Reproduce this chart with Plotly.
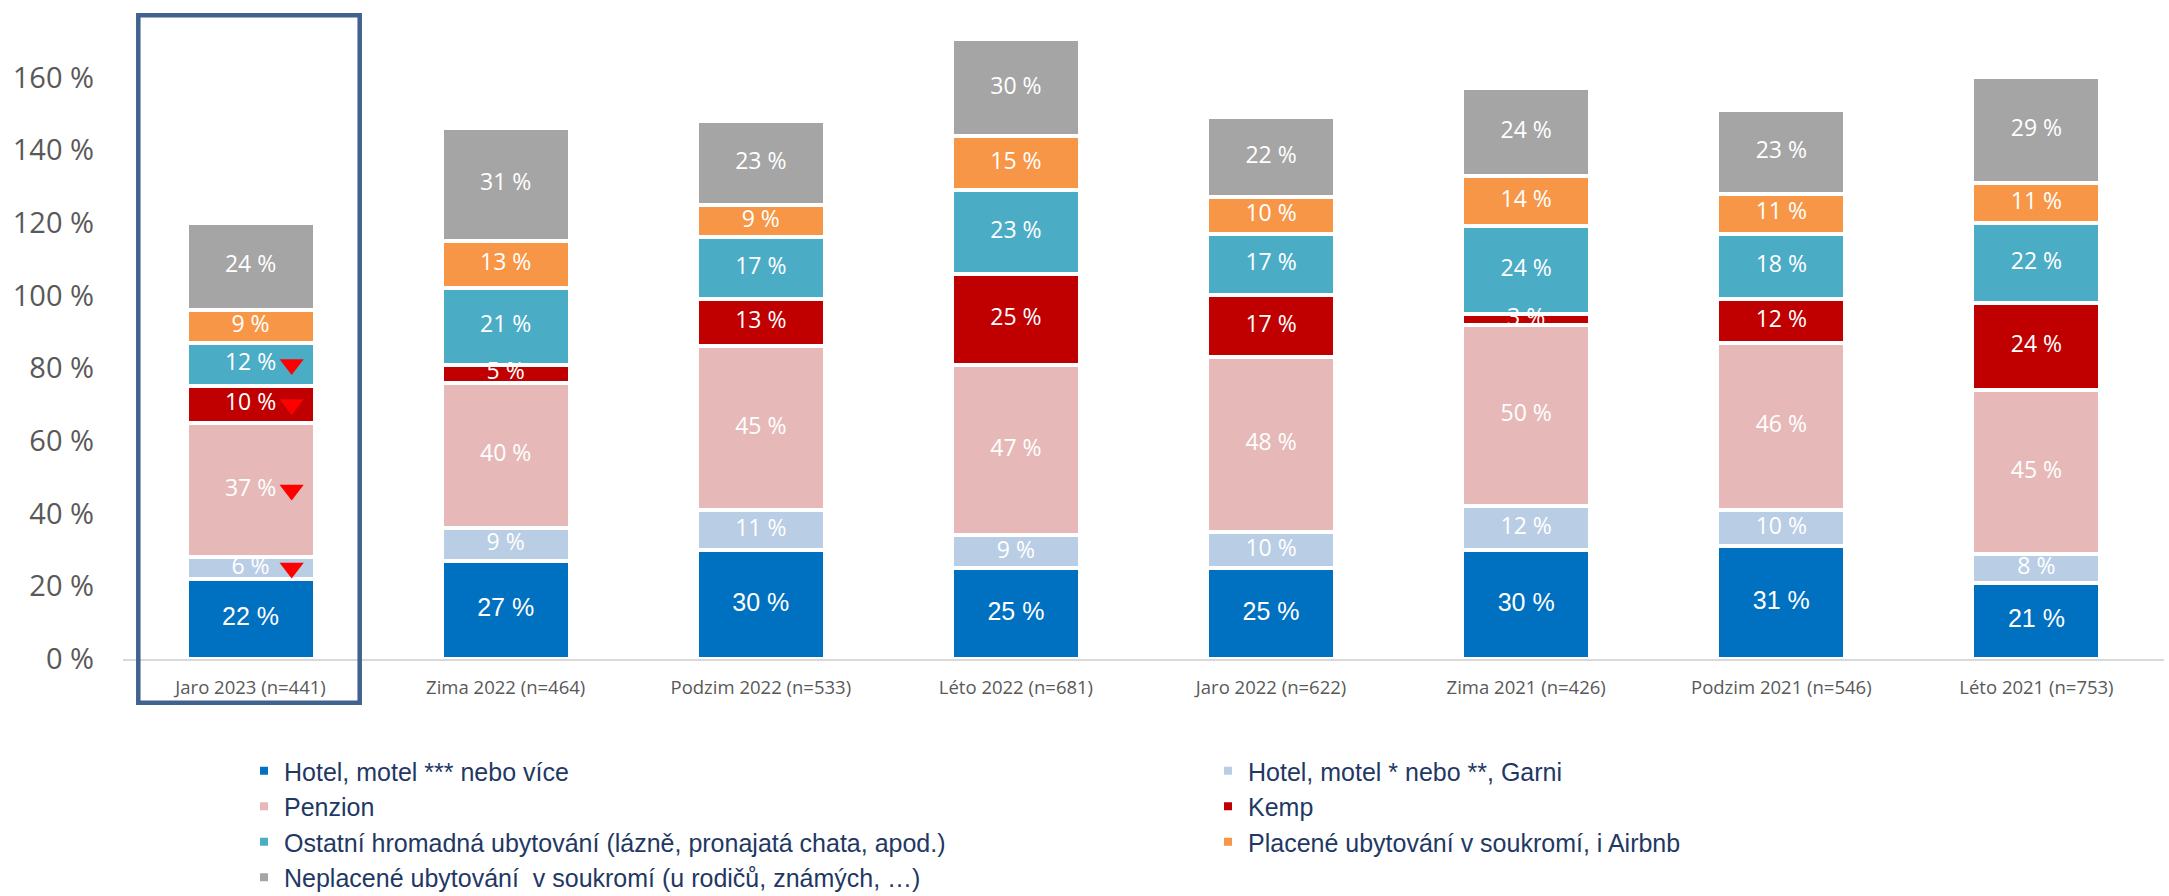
import plotly.graph_objects as go

# ---------------- data ----------------
categories = ["Jaro 2023 (n=441)", "Zima 2022 (n=464)", "Podzim 2022 (n=533)", "Léto 2022 (n=681)",
              "Jaro 2022 (n=622)", "Zima 2021 (n=426)", "Podzim 2021 (n=546)", "Léto 2021 (n=753)"]

series_names = [
    "Hotel, motel *** nebo více",
    "Hotel, motel * nebo **, Garni",
    "Penzion",
    "Kemp",
    "Ostatní hromadná ubytování (lázně, pronajatá chata, apod.)",
    "Placené ubytování v soukromí, i Airbnb",
    "Neplacené ubytování\u00a0 v soukromí (u rodičů, známých, …)",
]

hotel3 = [22, 27, 30, 25, 25, 30, 31, 21]
hotel1 = [6, 9, 11, 9, 10, 12, 10, 8]
penzion = [37, 40, 45, 47, 48, 50, 46, 45]
kemp = [10, 5, 13, 25, 17, 3, 12, 24]
ostatni = [12, 21, 17, 23, 17, 24, 18, 22]
placene = [9, 13, 9, 15, 10, 14, 11, 11]
neplacene = [24, 31, 23, 30, 22, 24, 23, 29]

series_values = [hotel3, hotel1, penzion, kemp, ostatni, placene, neplacene]
colors = ["#0070C0", "#B9CDE5", "#E6B9B8", "#C00000", "#4BACC6", "#F79646", "#A5A5A5"]

# significant decrease markers: category index and series indices
decrease_category = 0
decrease_series = [1, 2, 3, 4]

y_ticks = [0, 20, 40, 60, 80, 100, 120, 140, 160]
y_ticktext = [f"{v} %" for v in y_ticks]
y_max = 170

# legend layout: which legend each series goes in (two columns)
legend_of_series = ["legend", "legend2", "legend", "legend2", "legend", "legend2", "legend"]

# ---------------- figure ----------------
W, H = 2169, 896
xs = list(range(len(categories)))
fig = go.Figure()

for name, vals, col, lg in zip(series_names, series_values, colors, legend_of_series):
    fig.add_trace(go.Bar(
        x=xs, y=vals, name=name, width=0.502,
        marker=dict(color=col, line=dict(color="white", width=4)),
        legend=lg, hoverinfo="skip",
    ))

# value labels (centred in the visible part of each segment)
cum = [0] * len(categories)
centers_all = []
for si, vals in enumerate(series_values):
    centers = [(c + min(c + v, y_max)) / 2 for c, v in zip(cum, vals)]
    centers_all.append(centers)
    cum = [c + v for c, v in zip(cum, vals)]
    if si == 0:
        tf = dict(family="Liberation Sans, Arial", size=25, color="white")
    else:
        tf = dict(family="Open Sans", size=23, color="white")
    fig.add_trace(go.Scatter(
        x=xs, y=centers, mode="text", text=[f"{v} %" for v in vals],
        textposition="middle center", textfont=tf, showlegend=False,
        hoverinfo="skip", cliponaxis=False,
    ))

# red triangles (significant decrease)
fig.add_trace(go.Scatter(
    x=[decrease_category + 0.161] * len(decrease_series),
    y=[centers_all[s][decrease_category] for s in decrease_series],
    mode="markers",
    marker=dict(symbol="triangle-down", size=21, color="#FF0000"),
    showlegend=False, hoverinfo="skip", cliponaxis=False,
))

L, R, T, B = 123, 5, 41, 237
plot_w = W - L - R
plot_h = H - T - B

def px_x(p):
    return (p - L) / plot_w

def px_y(p):
    return (H - B - p) / plot_h

fig.add_shape(type="rect", xref="paper", yref="paper",
              x0=px_x(138.3), x1=px_x(359.7), y0=px_y(702.7), y1=px_y(15.3),
              line=dict(color="#41618F", width=4.5), fillcolor="rgba(0,0,0,0)", layer="above")

legend_common = dict(
    xref="container", yref="container", xanchor="left", yanchor="top",
    font=dict(family="Liberation Sans, Arial", size=25, color="#1F3864"),
    bgcolor="rgba(0,0,0,0)", tracegroupgap=0, itemwidth=30, orientation="v",
    traceorder="normal",
)

fig.update_layout(
    width=W, height=H,
    margin=dict(l=L, r=R, t=T, b=B, pad=0, autoexpand=False),
    barmode="stack",
    plot_bgcolor="white", paper_bgcolor="white",
    legend=dict(x=244 / W, y=1 - 748 / H, **legend_common),
    legend2=dict(x=1208 / W, y=1 - 748 / H, **legend_common),
    xaxis=dict(range=[-0.5, len(categories) - 0.5], tickvals=xs, ticktext=categories,
               showline=True, linecolor="#D9D9D9", linewidth=2, showgrid=False, zeroline=False,
               ticks="", tickfont=dict(family="Open Sans", size=18.5, color="#595959"),
               ticklabelstandoff=11, tickangle=0, fixedrange=True),
    yaxis=dict(range=[0, y_max], tickvals=y_ticks, ticktext=y_ticktext,
               showline=False, showgrid=False, zeroline=False, ticks="",
               tickfont=dict(family="Open Sans", size=29, color="#595959"),
               ticklabelstandoff=28, fixedrange=True),
)

fig.write_html("out.html", config={"displayModeBar": False},
               post_script="document.body.style.margin='0px';document.body.style.overflow='hidden';")
